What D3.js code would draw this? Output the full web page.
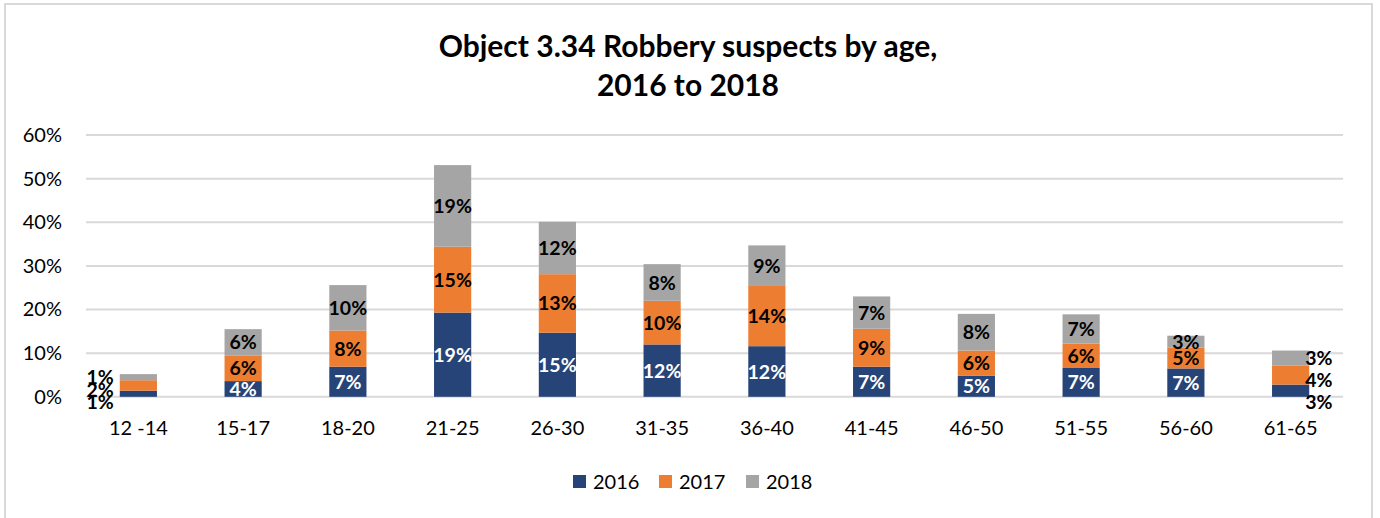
<!DOCTYPE html>
<html>
<head>
<meta charset="utf-8">
<script src="https://cdn.jsdelivr.net/npm/d3@7"></script>
<style>
  html, body { margin: 0; padding: 0; background: #ffffff; }
  svg { display: block; }
  text { font-family: Lato, "Open Sans", sans-serif; }
</style>
</head>
<body>
<svg id="chart" width="1380" height="518"></svg>
<script>
// Age groups along the x axis
const ageGroups = ["12 -14", "15-17", "18-20", "21-25", "26-30", "31-35", "36-40", "41-45", "46-50", "51-55", "56-60", "61-65"];
// Share of robbery suspects per age group (fractions)
const share2016 = [0.014, 0.036, 0.069, 0.193, 0.147, 0.120, 0.116, 0.069, 0.048, 0.066, 0.065, 0.028];
const share2017 = [0.024, 0.058, 0.083, 0.151, 0.134, 0.100, 0.138, 0.087, 0.058, 0.056, 0.048, 0.044];
const share2018 = [0.014, 0.061, 0.104, 0.187, 0.120, 0.084, 0.093, 0.074, 0.084, 0.067, 0.027, 0.034];
const seriesNames = ["2016", "2017", "2018"];
const yTicks = [0, 0.1, 0.2, 0.3, 0.4, 0.5, 0.6];

const colors = ["#264478", "#ed7d31", "#a5a5a5"];
const labelColors = ["#ffffff", "#000000", "#000000"];

const svg = d3.select("#chart");
const W = 1380, H = 518;
const plot = { left: 86, right: 1343, top: 135, bottom: 396.8 };

// Outer chart frame (open at the bottom)
svg.append("path")
  .attr("d", `M5,${H} V4 H1372 V${H}`)
  .attr("fill", "none")
  .attr("stroke", "#d9d9d9")
  .attr("stroke-width", 2);

// Title
const title = svg.append("text")
  .attr("text-anchor", "middle")
  .attr("font-weight", "bold")
  .attr("font-size", 30)
  .attr("fill", "#000");
title.append("tspan").attr("x", 688).attr("y", 57).text("Object 3.34 Robbery suspects by age,");
title.append("tspan").attr("x", 688).attr("y", 96).text("2016 to 2018");

const x = d3.scaleBand().domain(ageGroups).range([plot.left, plot.right]).paddingInner(0.645).paddingOuter(0.3225);
const y = d3.scaleLinear().domain([0, 0.6]).range([plot.bottom, plot.top]);

// Horizontal gridlines
svg.append("g")
  .selectAll("line")
  .data(yTicks)
  .join("line")
  .attr("x1", plot.left).attr("x2", plot.right)
  .attr("y1", d => y(d)).attr("y2", d => y(d))
  .attr("stroke", "#d9d9d9")
  .attr("stroke-width", 2);

// Y axis labels
const yAxis = d3.axisLeft(y).tickValues(yTicks).tickFormat(d3.format(".0%")).tickSize(0).tickPadding(0);
svg.append("g")
  .attr("transform", `translate(62,0)`)
  .call(yAxis)
  .call(g => g.select(".domain").remove())
  .selectAll("text")
  .attr("font-family", "Lato, sans-serif")
  .attr("font-size", 20)
  .attr("fill", "#000");

// X axis labels
const xAxis = d3.axisBottom(x).tickSize(0).tickPadding(0);
svg.append("g")
  .attr("transform", `translate(0,${plot.bottom})`)
  .call(xAxis)
  .call(g => g.select(".domain").remove())
  .selectAll("text")
  .attr("font-family", "Lato, sans-serif")
  .attr("font-size", 20)
  .attr("fill", "#000")
  .attr("dy", null)
  .attr("y", 38);

// Stack the series
const rows = ageGroups.map((g, i) => ({ group: g, "2016": share2016[i], "2017": share2017[i], "2018": share2018[i] }));
const stacked = d3.stack().keys(seriesNames)(rows);

const layers = svg.append("g")
  .selectAll("g")
  .data(stacked)
  .join("g")
  .attr("fill", (d, i) => colors[i]);

layers.selectAll("rect")
  .data(d => d)
  .join("rect")
  .attr("x", d => x(d.data.group))
  .attr("width", x.bandwidth())
  .attr("y", d => y(d[1]))
  .attr("height", d => y(d[0]) - y(d[1]));

// Data labels
const fmt = d3.format(".0%");
const firstGroup = ageGroups[0];
const lastGroup = ageGroups[ageGroups.length - 1];
const labelG = svg.append("g")
  .attr("font-weight", "bold")
  .attr("font-size", 19.5);

stacked.forEach((layer, si) => {
  layer.forEach(d => {
    const g = d.data.group;
    const side = g === firstGroup || g === lastGroup;
    let lx, ly, anchor;
    if (!side) {
      lx = x(g) + x.bandwidth() / 2;
      ly = (y(d[0]) + y(d[1])) / 2;
      anchor = "middle";
    } else {
      // Thin bars: labels sit beside the bar, fanned out so they stay legible
      const top = stacked[stacked.length - 1].find(e => e.data.group === g);
      const topY = (y(top[0]) + y(top[1])) / 2;
      const bottomY = y(0) + 5;
      ly = si === 2 ? topY : si === 0 ? bottomY : (topY + bottomY) / 2;
      if (g === firstGroup) { lx = x(g) - 6; anchor = "end"; }
      else { lx = x(g) + x.bandwidth() - 4; anchor = "start"; }
    }
    labelG.append("text")
      .attr("x", lx)
      .attr("y", ly)
      .attr("dy", "0.36em")
      .attr("text-anchor", anchor)
      .attr("fill", side ? "#000000" : labelColors[si])
      .text(fmt(d[1] - d[0]));
  });
});

// Legend
const legendX = [573, 659, 746];
const legend = svg.append("g");
seriesNames.forEach((name, i) => {
  legend.append("rect")
    .attr("x", legendX[i]).attr("y", 475)
    .attr("width", 13).attr("height", 13)
    .attr("fill", colors[i]);
  legend.append("text")
    .attr("x", legendX[i] + 20).attr("y", 489)
    .attr("font-size", 20)
    .attr("fill", "#000")
    .text(name);
});
</script>
</body>
</html>
